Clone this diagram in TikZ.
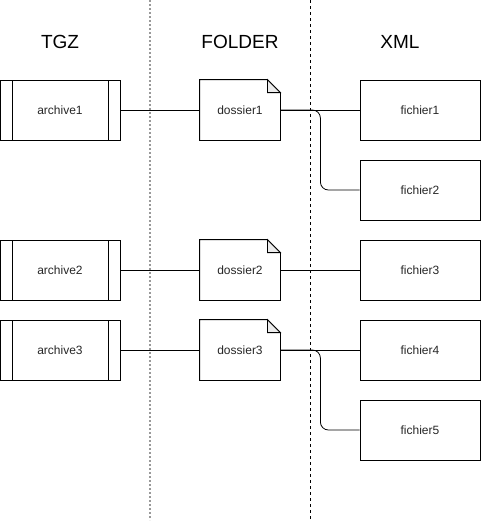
\documentclass[tikz,border=0pt]{standalone}
\usepackage{fontspec}
\setmainfont{Liberation Sans}
\usepackage{tikz}
\usetikzlibrary{
  positioning,
  calc
}
\tikzset{
  archive/.style = {draw, minimum width = 120pt, minimum height = 60pt, font = \fontsize{12}{14}\selectfont, text = black!85,
    path picture = {
      \draw ($(path picture bounding box.north west)+(12pt,0)$) -- ($(path picture bounding box.south west)+(12pt,0)$);
      \draw ($(path picture bounding box.north east)+(-12pt,0)$) -- ($(path picture bounding box.south east)+(-12pt,0)$);
    }},
  dossier/.style = {minimum width = 80pt, minimum height = 60pt, font = \fontsize{12}{14}\selectfont, text = black!85},
  fichier/.style = {draw, minimum width = 120pt, minimum height = 60pt, font = \fontsize{12}{14}\selectfont, text = black!85},
  header/.style  = {font = \fontsize{19}{22}\selectfont},
  link/.style    = {line width = 0.8pt}
}

\begin{document}
\begin{tikzpicture}[x=1pt, y=-1pt, line width = 0.8pt]
  \useasboundingbox (0, 0) rectangle (481, 522);

  % Column separators
  \draw [gray!80, line width = 1.4pt, dash pattern = on 2pt off 2pt] (150, 0) -- (150, 520);
  \draw [black, line width = 0.8pt, dash pattern = on 3pt off 3pt] (310, 0) -- (310, 520);

  % Headers
  \node [header] (tgz)    at ( 60, 42) {TGZ};
  \node [header] (folder) at (240, 42) {FOLDER};
  \node [header] (xml)    at (400, 42) {XML};

  % Archives
  \node [archive] (archive1) at ( 60, 110) {archive1};
  \node [archive] (archive2) at ( 60, 270) {archive2};
  \node [archive] (archive3) at ( 60, 350) {archive3};

  % Folders
  \node [dossier] (dossier1) at (240, 110) {dossier1};
  \node [dossier] (dossier2) at (240, 270) {dossier2};
  \node [dossier] (dossier3) at (240, 350) {dossier3};
  \foreach \d in {dossier1, dossier2, dossier3} {
    \draw (\d.north west) -- ($(\d.north east)+(-13, 0)$) -- ($(\d.north east)+(0, 13)$) -- (\d.south east) -- (\d.south west) -- cycle;
    \draw [fill = gray!15] ($(\d.north east)+(-13, 0)$) -- ($(\d.north east)+(-13, 13)$) -- ($(\d.north east)+(0, 13)$) -- cycle;
  }

  % Files
  \node [fichier] (fichier1) at (420, 110) {fichier1};
  \node [fichier] (fichier2) at (420, 190) {fichier2};
  \node [fichier] (fichier3) at (420, 270) {fichier3};
  \node [fichier] (fichier4) at (420, 350) {fichier4};
  \node [fichier] (fichier5) at (420, 430) {fichier5};

  % Links
  \draw [link] (archive1) -- (dossier1);
  \draw [link] (archive2) -- (dossier2);
  \draw [link] (archive3) -- (dossier3);

  \draw [link] (dossier1) -- (fichier1);
  \draw [link, rounded corners = 8pt] (dossier1.east) -- ++(40, 0) |- (fichier2.west);
  \draw [link] (dossier2) -- (fichier3);
  \draw [link] (dossier3) -- (fichier4);
  \draw [link, rounded corners = 8pt] (dossier3.east) -- ++(40, 0) |- (fichier5.west);
\end{tikzpicture}
\end{document}
